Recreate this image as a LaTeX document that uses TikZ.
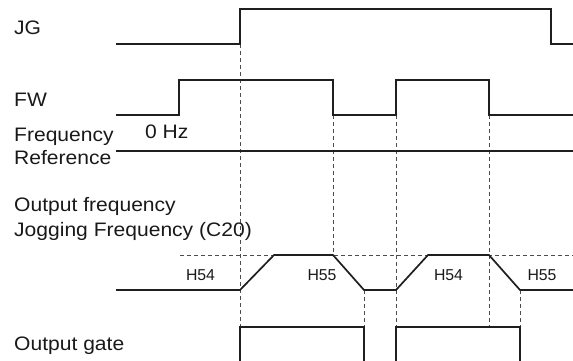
\documentclass[tikz,border=0pt]{standalone}
\usepackage{fontspec}
\setmainfont{Liberation Sans}[FakeStretch=1.08]
\newfontfamily\hfont{Liberation Sans}
\begin{document}
\begin{tikzpicture}[x=1pt,y=-1pt,
  sig/.style={line width=1.7pt, color=black!88, line join=miter},
  guide/.style={line width=0.8pt, color=black!70, dash pattern=on 4pt off 3pt},
  lbl/.style={anchor=base west, inner sep=0pt, font=\fontsize{19.5}{22}\selectfont, text=black!90},
  hl/.style={anchor=base, inner sep=0pt, font=\hfont\fontsize{15.8}{18}\selectfont, text=black!90}]
\useasboundingbox (0,0) rectangle (573,360);
% guides
\draw[guide] (240,44) -- (240,327);
\draw[guide] (333,115) -- (333,255);
\draw[guide] (396,115) -- (396,327);
\draw[guide] (489,115) -- (489,327);
\draw[guide] (364,290) -- (364,327);
\draw[guide] (520,290) -- (520,327);
\draw[guide] (180,255) -- (573,255);
% signals
\draw[sig] (116,44) -- (240,44) -- (240,9) -- (551,9) -- (551,44) -- (573,44);
\draw[sig] (116,115) -- (178.7,115) -- (178.7,80) -- (333,80) -- (333,115) -- (396,115) -- (396,80) -- (489,80) -- (489,115) -- (573,115);
\draw[sig] (116,151) -- (573,151);
\draw[sig] (116,290) -- (240,290) -- (274,255) -- (333,255) -- (364,290) -- (396,290) -- (428,255) -- (489,255) -- (520,290) -- (573,290);
\draw[sig] (240,362) -- (240,327) -- (364,327) -- (364,362);
\draw[sig] (396,362) -- (396,327) -- (520,327) -- (520,362);
% labels
\node[lbl] (jg) at (14,34.5) {JG};
\node[lbl] (fw) at (14,106) {FW};
\node[lbl] (fr1) at (14,141.5) {Frequency};
\node[lbl] (fr2) at (14,164) {Reference};
\node[lbl] (hz) at (145,138.5) {0 Hz};
\node[lbl] (of) at (14,211) {Output frequency};
\node[lbl] (jf) at (14,236) {Jogging Frequency (C20)};
\node[lbl] (og) at (14,350.5) {Output gate};
\node[hl] (h1) at (200.5,280) {H54};
\node[hl] (h2) at (322,280) {H55};
\node[hl] (h3) at (448.5,280) {H54};
\node[hl] (h4) at (542,280) {H55};
\end{tikzpicture}
\end{document}
